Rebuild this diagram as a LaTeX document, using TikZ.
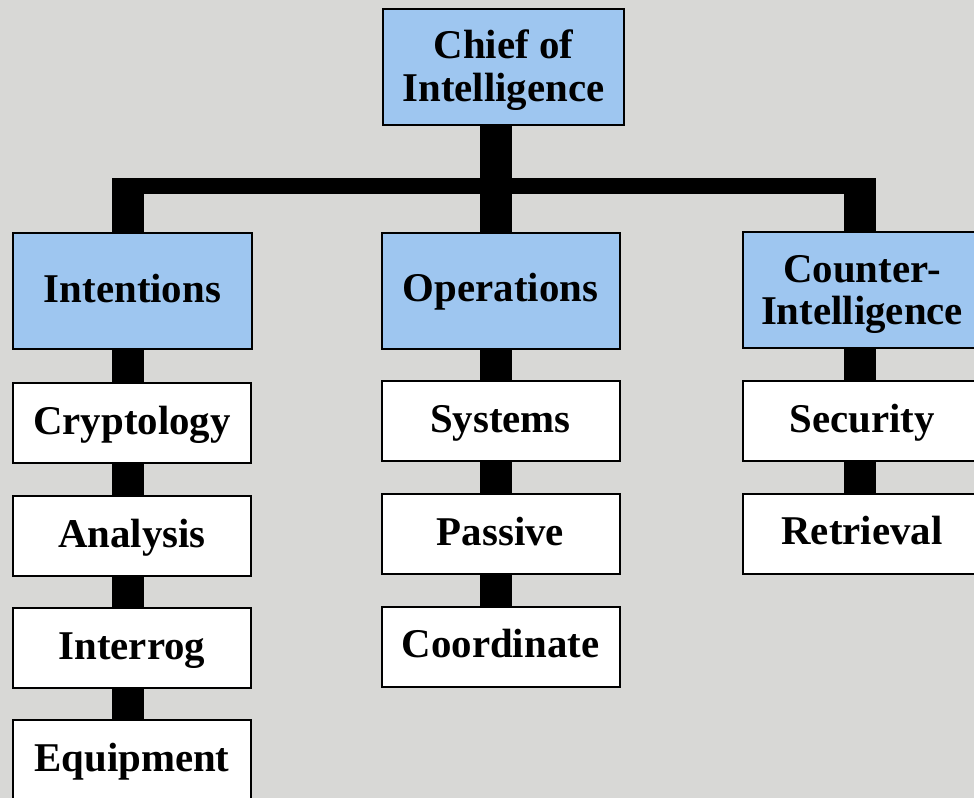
\documentclass[tikz,border=0pt]{standalone}
\usepackage{fontspec}
\setmainfont{Liberation Serif}
\usetikzlibrary{backgrounds,calc}
\definecolor{bg}{HTML}{D8D8D6}
\definecolor{boxblue}{HTML}{9EC6F0}
\begin{document}
\begin{tikzpicture}[x=1bp,y=-1bp,
  boxbase/.style={draw=black, line width=2bp, fill=white, minimum width=238bp,
    minimum height=80bp, inner sep=0pt, align=center,
    font=\fontsize{41}{43}\selectfont\bfseries},
  oneline/.style={text height=28bp, text depth=6bp},
  box/.style={boxbase, oneline},
  head/.style={boxbase, fill=boxblue, minimum height=116bp},
  vconn/.style={draw=black, line width=32bp, line cap=butt},
  hbar/.style={draw=black, line width=16bp, line cap=butt}]
\path[use as bounding box, clip] (0,0) rectangle (974,798);
% boxes
\node[head, minimum width=241bp] (chief) at (503.5,67) {\rule{0pt}{35bp}Chief of\\Intelligence};
\node[head, oneline] (int) at (132.5,291) {Intentions};
\node[head, oneline] (ops) at (500.5,290.5) {Operations};
\node[head] (cnt) at (862,289.5) {\rule{0pt}{37bp}Counter-\\Intelligence};
\node[box] (cry) at (132,423) {Cryptology};
\node[box] (ana) at (132,536) {Analysis};
\node[box] (itr) at (132,648) {Interrog};
\node[box] (eqp) at (132,760) {Equipment};
\node[box] (sys) at (500.5,421) {Systems};
\node[box] (pas) at (500.5,534) {Passive};
\node[box] (coo) at (500.5,646.5) {Coordinate};
\node[box] (sec) at (862,421) {Security};
\node[box] (ret) at (862,533.5) {Retrieval};
% bar level coordinates
\coordinate (barL) at (128,186);
\coordinate (barM) at (496,186);
\coordinate (barR) at (859.5,186);
\begin{pgfonlayer}{background}
  \fill[bg] (0,0) rectangle (974,798);
  \draw[hbar] ($(barL)+(-16,0)$) -- ($(barR)+(16,0)$);
  \draw[vconn] (chief.south -| barM) -- (barM);
  \draw[vconn] (barL) -- (int.north -| barL);
  \draw[vconn] (barM) -- (ops.north -| barM);
  \draw[vconn] (barR) -- (cnt.north -| barR);
  \draw[vconn] (int.south -| barL) -- (cry.north -| barL);
  \draw[vconn] (cry.south -| barL) -- (ana.north -| barL);
  \draw[vconn] (ana.south -| barL) -- (itr.north -| barL);
  \draw[vconn] (itr.south -| barL) -- (eqp.north -| barL);
  \draw[vconn] (ops.south -| barM) -- (sys.north -| barM);
  \draw[vconn] (sys.south -| barM) -- (pas.north -| barM);
  \draw[vconn] (pas.south -| barM) -- (coo.north -| barM);
  \draw[vconn] (cnt.south -| barR) -- (sec.north -| barR);
  \draw[vconn] (sec.south -| barR) -- (ret.north -| barR);
\end{pgfonlayer}
\end{tikzpicture}
\end{document}
